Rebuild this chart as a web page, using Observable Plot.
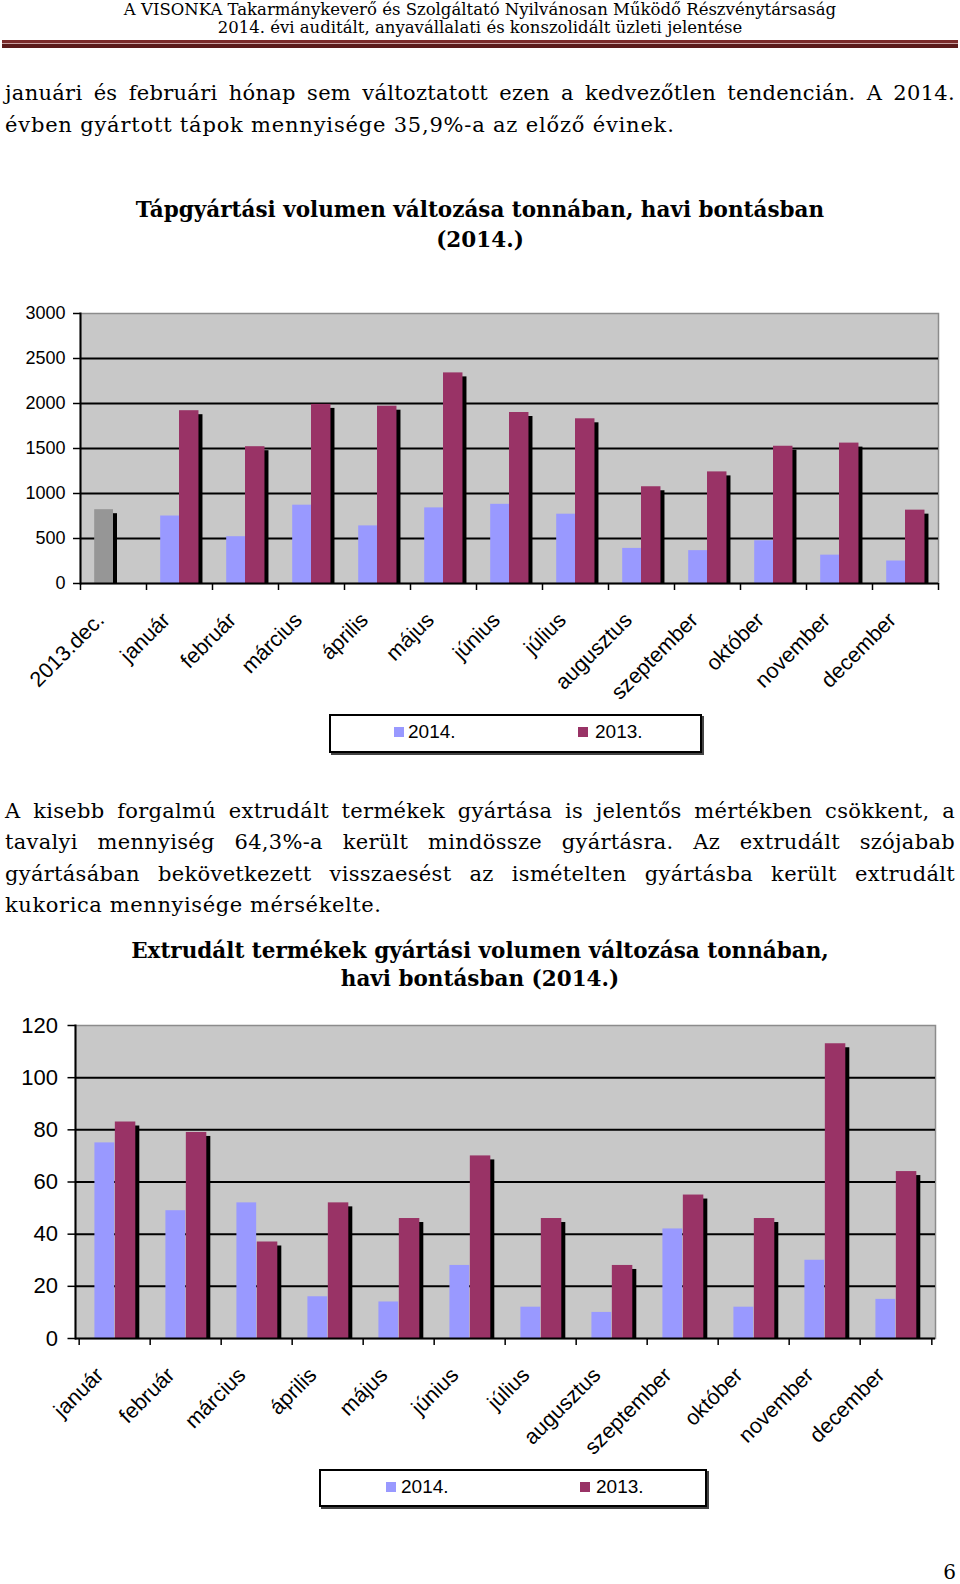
<!DOCTYPE html>
<html><head><meta charset="utf-8">
<script src="https://cdn.jsdelivr.net/npm/d3@7"></script>
<script src="https://cdn.jsdelivr.net/npm/@observablehq/plot@0.6"></script>
<style>
body{margin:0;background:#fff}
#page{position:relative;width:960px;height:1584px;overflow:hidden;font-family:"DejaVu Serif",serif;color:#000}
.hdr{position:absolute;left:0;width:960px;text-align:center;font-size:16.5px;line-height:19px;white-space:nowrap}
.rule{position:absolute;left:2px;width:956px;top:40px;height:8px;background:linear-gradient(#7a2a2a 0 3px,#c9a0a0 3px 4px,#5a1a1a 4px 8px)}
.ln{position:absolute;left:5px;width:950px;white-space:nowrap;font-size:21px;letter-spacing:0.6px;line-height:30px}
.j{text-align:justify;text-align-last:justify;letter-spacing:0.3px}
.ttl{position:absolute;left:0;width:960px;text-align:center;font-weight:bold;font-size:21.5px;line-height:30px;white-space:nowrap}
.chart{position:absolute;left:0}
.legend{position:absolute;border:2px solid #000;box-shadow:2px 2px 0 #444;background:#fff;font-family:"Liberation Sans",Arial,sans-serif;font-size:19px}
.legend span.sw{position:absolute;width:10px;height:10px}
.legend span.tx{position:absolute;line-height:20px}
.pnum{position:absolute;right:4px;top:1560px;font-size:20px}
</style></head>
<body><div id="page">
<div class="hdr" style="top:0px">A VISONKA Takarmánykeverő és Szolgáltató Nyilvánosan Működő Részvénytársaság</div>
<div class="hdr" style="top:18px">2014. évi auditált, anyavállalati és konszolidált üzleti jelentése</div>
<div class="rule"></div>
<div class="ln j" style="top:78px">januári és februári hónap sem változtatott ezen a kedvezőtlen tendencián. A 2014.</div>
<div class="ln" style="top:110px;letter-spacing:0.8px">évben gyártott tápok mennyisége 35,9%-a az előző évinek.</div>
<div class="ttl" style="top:195px">Tápgyártási volumen változása tonnában, havi bontásban</div>
<div class="ttl" style="top:225px">(2014.)</div>
<div id="c1" class="chart" style="top:290px"></div>
<div id="lg1" class="legend" style="left:329px;top:714px;width:369px;height:35px"></div>
<div class="ln j" style="top:796px">A kisebb forgalmú extrudált termékek gyártása is jelentős mértékben csökkent, a</div>
<div class="ln j" style="top:827px">tavalyi mennyiség 64,3%-a került mindössze gyártásra. Az extrudált szójabab</div>
<div class="ln j" style="top:859px">gyártásában bekövetkezett visszaesést az ismételten gyártásba került extrudált</div>
<div class="ln" style="top:890px">kukorica mennyisége mérsékelte.</div>
<div class="ttl" style="top:936px">Extrudált termékek gyártási volumen változása tonnában,</div>
<div class="ttl" style="top:964px">havi bontásban (2014.)</div>
<div id="c2" class="chart" style="top:1000px"></div>
<div id="lg2" class="legend" style="left:319px;top:1469px;width:384px;height:34px"></div>
<div class="pnum">6</div>
</div>
<script>
// ---- Data: chart 1 (tápgyártás, tonna) ----
const tapMonths = ["2013.dec.","január","február","március","április","május","június","július","augusztus","szeptember","október","november","december"];
const tapDec2013 = 820;
const tap2014 = [750,520,870,640,840,880,770,390,365,475,315,250];
const tap2013 = [1920,1520,1990,1970,2340,1900,1830,1075,1240,1525,1560,815];
const tapTicks = [0,500,1000,1500,2000,2500,3000];

// ---- Data: chart 2 (extrudált termékek, tonna) ----
const extMonths = ["január","február","március","április","május","június","július","augusztus","szeptember","október","november","december"];
const ext2014 = [75,49,52,16,14,28,12,10,42,12,30,15];
const ext2013 = [83,79,37,52,46,70,46,28,55,46,113,64];
const extTicks = [0,20,40,60,80,100,120];

const seriesNames = ["2014.","2013."];
const C2014 = "#9999ff", C2013 = "#993366", CPREV = "#969696", BG = "#c8c8c8";

function chart({months, rows, prev, ticks, ymax, height, mt, mb, ml, mr, yFont, ySize, yPad, band, xPad, xDx}) {
  const a = band * 0.215, b = band * 0.50, c = band * 0.205; // slot geometry
  const ins2014 = {insetLeft: a, insetRight: band - b};
  const ins2013 = {insetLeft: b, insetRight: c};
  const marks = [
    Plot.frame({fill: BG, stroke: "#8c8c8c", strokeWidth: 1.5}),
    Plot.ruleY(ticks.slice(1, -1), {stroke: "#000", strokeWidth: 2}),
  ];
  if (prev) {
    marks.push(Plot.barY(prev, {x: "month", y: "value", fill: "#000", ...ins2014, dx: 4, dy: 4, insetBottom: 4}));
  }
  marks.push(Plot.barY(rows, {x: "month", y: "v2013", fill: "#000", ...ins2013, dx: 4, dy: 4, insetBottom: 4}));
  if (prev) marks.push(Plot.barY(prev, {x: "month", y: "value", fill: CPREV, ...ins2014}));
  marks.push(
    Plot.barY(rows, {x: "month", y: "v2014", fill: C2014, ...ins2014}),
    Plot.barY(rows, {x: "month", y: "v2013", fill: C2013, ...ins2013}),
    Plot.ruleY([0], {stroke: "#000", strokeWidth: 2}),
    Plot.frame({anchor: "left", stroke: "#000", strokeWidth: 2}),
    Plot.axisY(ticks, {tickSize: ySize, tickPadding: yPad, fontSize: yFont, tickFormat: d => String(d), label: null, strokeWidth: 1.5}),
    Plot.axisX(months, {tickSize: 7, tickFormat: () => "", label: null, dx: -band / 2, strokeWidth: 1.5}),
    Plot.axisX([months[months.length - 1]], {tickSize: 7, tickFormat: () => "", label: null, dx: band / 2, strokeWidth: 1.5}),
    Plot.axisX(months, {tickSize: 0, tickRotate: -45, tickPadding: xPad, fontSize: 21.5, label: null, dx: xDx})
  );
  return Plot.plot({
    width: 960, height, marginTop: mt, marginBottom: mb, marginLeft: ml, marginRight: mr,
    style: {fontFamily: "'Liberation Sans', Arial, sans-serif", color: "#000", background: "transparent", overflow: "visible"},
    x: {type: "band", domain: months, paddingInner: 0, paddingOuter: 0, label: null},
    y: {domain: [0, ymax], label: null},
    marks
  });
}

const rows1 = tapMonths.slice(1).map((m, i) => ({month: m, v2014: tap2014[i], v2013: tap2013[i]}));
const prev1 = [{month: tapMonths[0], value: tapDec2013}];
document.getElementById("c1").append(chart({
  months: tapMonths, rows: rows1, prev: prev1, ticks: tapTicks, ymax: 3000,
  height: 413, mt: 23, mb: 120, ml: 80, mr: 22, yFont: 18, ySize: 7, yPad: 8, band: (960 - 80 - 22) / 13,
  xPad: 33, xDx: -13
}));

const rows2 = extMonths.map((m, i) => ({month: m, v2014: ext2014[i], v2013: ext2013[i]}));
document.getElementById("c2").append(chart({
  months: extMonths, rows: rows2, prev: null, ticks: extTicks, ymax: 120,
  height: 458, mt: 25, mb: 120, ml: 75, mr: 25, yFont: 22, ySize: 7.5, yPad: 10, band: (960 - 75 - 25) / 12,
  xPad: 33, xDx: -15
}));

function legend(id, swX, txX) {
  const el = document.getElementById(id);
  const cols = [C2014, C2013];
  seriesNames.forEach((n, i) => {
    const sw = document.createElement("span");
    sw.className = "sw"; sw.style.background = cols[i]; sw.style.left = swX[i] + "px"; sw.style.top = "11px";
    const tx = document.createElement("span");
    tx.className = "tx"; tx.textContent = n; tx.style.left = txX[i] + "px"; tx.style.top = "6px";
    el.append(sw, tx);
  });
}
legend("lg1", [63, 247], [77, 264]);
legend("lg2", [65, 259], [80, 275]);
</script>
</body></html>
